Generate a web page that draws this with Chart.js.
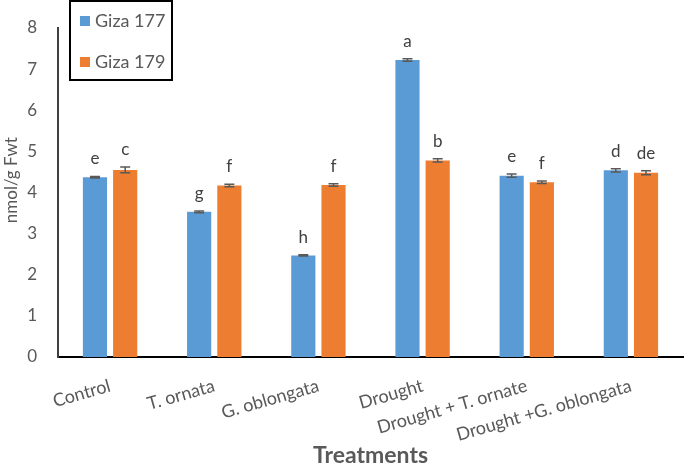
<!DOCTYPE html>
<html>
<head>
<meta charset="utf-8">
<script src="https://cdn.jsdelivr.net/npm/chart.js@4.4.1/dist/chart.umd.min.js"></script>
<style>
  html, body { margin: 0; padding: 0; background: #fff; }
  #wrap { width: 685px; height: 473px; }
</style>
</head>
<body>
<div id="wrap"><canvas id="myChart" width="685" height="473"></canvas></div>
<script>
const categories = ['Control', 'T. ornata', 'G. oblongata', 'Drought', 'Drought + T. ornate', 'Drought +G. oblongata'];
const giza177 = [4.37, 3.53, 2.47, 7.22, 4.41, 4.54];
const giza179 = [4.55, 4.17, 4.18, 4.78, 4.25, 4.48];
const err177 = [0.02, 0.02, 0.015, 0.03, 0.04, 0.04];
const err179 = [0.07, 0.03, 0.03, 0.04, 0.03, 0.05];
const letters177 = ['e', 'g', 'h', 'a', 'e', 'd'];
const letters179 = ['c', 'f', 'f', 'b', 'f', 'de'];
const yTicks = [0, 1, 2, 3, 4, 5, 6, 7, 8];
const yTitle = 'nmol/g Fwt';

const FONT = 'Lato, "Open Sans", sans-serif';
const GREY = '#595959';

// error bars, letters and y title, placed through the scales
const extras = {
  id: 'extras',
  afterDatasetsDraw(chart) {
    const ctx = chart.ctx;
    const y = chart.scales.y;
    const errs = [err177, err179];
    const lets = [letters177, letters179];
    chart.data.datasets.forEach((ds, di) => {
      const meta = chart.getDatasetMeta(di);
      meta.data.forEach((bar, i) => {
        const v = ds.data[i];
        const top = y.getPixelForValue(v + errs[di][i]);
        const bot = y.getPixelForValue(v - errs[di][i]);
        ctx.save();
        ctx.strokeStyle = GREY;
        ctx.lineWidth = 1.5;
        ctx.beginPath();
        ctx.moveTo(bar.x, top); ctx.lineTo(bar.x, bot);
        ctx.moveTo(bar.x - 5, top); ctx.lineTo(bar.x + 5, top);
        ctx.moveTo(bar.x - 5, bot); ctx.lineTo(bar.x + 5, bot);
        ctx.stroke();
        ctx.fillStyle = '#404040';
        ctx.font = '17px ' + FONT;
        ctx.textAlign = 'center';
        ctx.textBaseline = 'alphabetic';
        ctx.fillText(lets[di][i], bar.x, top - 12);
        ctx.restore();
      });
    });
    ctx.save();
    ctx.translate(12, y.getPixelForValue(4.3));
    ctx.rotate(-Math.PI / 2);
    ctx.fillStyle = GREY;
    ctx.font = '17px ' + FONT;
    ctx.textAlign = 'center';
    ctx.textBaseline = 'middle';
    ctx.fillText(yTitle, 0, 0);
    ctx.restore();
  }
};

// boxed legend at top left
const boxLegend = {
  id: 'boxLegend',
  afterDraw(chart) {
    const ctx = chart.ctx;
    ctx.save();
    ctx.strokeStyle = '#000';
    ctx.lineWidth = 2;
    ctx.strokeRect(70, 1, 102, 79);
    ctx.font = '18px ' + FONT;
    ctx.textBaseline = 'middle';
    chart.data.datasets.forEach((ds, i) => {
      const cy = 21 + i * 41;
      ctx.fillStyle = ds.backgroundColor;
      ctx.fillRect(80, cy - 5, 10, 10);
      ctx.fillStyle = GREY;
      ctx.fillText(ds.label, 95, cy);
    });
    ctx.restore();
  }
};

const canvas = document.getElementById('myChart');
const ctx = canvas.getContext('2d');
new Chart(ctx, {
  type: 'bar',
  data: {
    labels: categories,
    datasets: [
      { label: 'Giza 177', data: giza177, backgroundColor: '#5B9BD5', categoryPercentage: 0.58, barPercentage: 0.8 },
      { label: 'Giza 179', data: giza179, backgroundColor: '#ED7D31', categoryPercentage: 0.58, barPercentage: 0.8 },
    ],
  },
  options: {
    responsive: false,
    animation: false,
    layout: { padding: { top: 28, right: 2, left: 0, bottom: 0 } },
    plugins: { legend: { display: false }, tooltip: { enabled: false } },
    scales: {
      x: {
        grid: { display: false },
        border: { display: true, color: '#000', width: 2 },
        ticks: { color: GREY, font: { size: 18, family: FONT }, minRotation: 16, maxRotation: 16, autoSkip: false, padding: 10 },
        title: { display: true, text: 'Treatments', color: GREY, font: { size: 23, weight: 'bold', family: FONT }, padding: { top: 4, bottom: 4 } },
        afterFit(s) { s.height = 116; },
      },
      y: {
        min: 0,
        max: 8,
        grid: { display: false },
        border: { display: true, color: '#404040', width: 2 },
        afterBuildTicks(s) { s.ticks = yTicks.map(v => ({ value: v })); },
        ticks: { color: GREY, font: { size: 17, family: FONT }, padding: 13 },
        afterFit(s) { s.width = 58; },
      },
    },
  },
  plugins: [extras, boxLegend],
});
</script>
</body>
</html>
